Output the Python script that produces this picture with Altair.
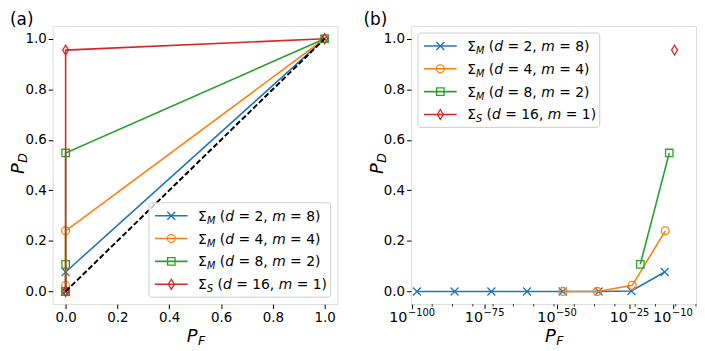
import altair as alt
import pandas as pd

FONT = "DejaVu Sans"
W_PLOT, H_PLOT = 287, 280

# ---------------- data ----------------
series_names = ["Σ_M (d = 2, m = 8)", "Σ_M (d = 4, m = 4)",
                "Σ_M (d = 8, m = 2)", "Σ_S (d = 16, m = 1)"]
series_colors = ["#1f77b4", "#ff7f0e", "#2ca02c", "#d62728"]
legend_parts = [("M", "2", "8"), ("M", "4", "4"), ("M", "8", "2"), ("S", "16", "1")]

blue_pf = [0.0, 5e-99, 5e-86, 2.5e-73, 5e-61, 1e-48, 2.5e-36, 5e-25, 1.6e-13, 1.0]
blue_pd = [0.0, 0.0, 0.0, 0.0, 0.0, 0.0, 0.0, 0.002, 0.077, 1.0]
orange_pf = [0.0, 1.2e-48, 1e-36, 1e-24, 2.5e-13, 1.0]
orange_pd = [0.0, 0.0, 0.0, 0.024, 0.24, 1.0]
green_pf = [0.0, 6e-22, 6e-12, 1.0]
green_pd = [0.0, 0.107, 0.548, 1.0]
red_pf = [0.0, 4e-10, 1.0]
red_pd = [0.0, 0.955, 1.0]

chance_pf = [0.0, 1.0]
chance_pd = [0.0, 1.0]

lin_ticks = [0.0, 0.2, 0.4, 0.6, 0.8, 1.0]
log_ticks = [1e-100, 1e-75, 1e-50, 1e-25, 1e-10]
log_tick_exp = ["−100", "−75", "−50", "−25", "−10"]
log_minor = [1e-93, 1e-86, 1e-79, 1e-72, 1e-65, 1e-58, 1e-51, 1e-44,
             1e-37, 1e-30, 1e-23, 1e-16, 1e-9, 1e-2]

all_pf = [blue_pf, orange_pf, green_pf, red_pf]
all_pd = [blue_pd, orange_pd, green_pd, red_pd]

X_PATH = "M-1,-1L1,1M-1,1L1,-1"
D_PATH = "M0,-1L0.6,0L0,1L-0.6,0Z"
shapes = [X_PATH, "circle", "square", D_PATH]
sizes = [64, 64, 56, 100]

EM = {"Σ": 0.632, "M": 0.863, "S": 0.635, "P": 0.603, "F": 0.575, "D": 0.770,
      "(": 0.390, ")": 0.390, "d": 0.635, "m": 0.974, "=": 0.838, " ": 0.318,
      ",": 0.318, "−": 0.838}


def tw(s, size):
    return sum(EM.get(c, 0.636) for c in s) * size


ONE = pd.DataFrame({"k": [0]})


def txt(s, x, y, size, style="normal", angle=0, align="left"):
    kw = dict(align=align, baseline="alphabetic", font=FONT, fontSize=size,
              fontStyle=style, color="black")
    if angle:
        kw["angle"] = angle
    return alt.Chart(ONE).mark_text(**kw).encode(
        x=alt.value(x), y=alt.value(y), text=alt.value(s))


def legend_layers(bx, by):
    F = 14.0
    bw, bh = 183, 95
    out = [alt.Chart(ONE).mark_rect(fill="white", fillOpacity=0.8, stroke="#cccccc",
                                    strokeWidth=1, cornerRadius=3).encode(
        x=alt.value(bx), x2=alt.value(bx + bw), y=alt.value(by), y2=alt.value(by + bh))]
    for k in range(4):
        yk = by + 13 + 23 * k
        c = series_colors[k]
        out.append(alt.Chart(ONE).mark_rule(color=c, strokeWidth=1.6).encode(
            x=alt.value(bx + 6), x2=alt.value(bx + 39), y=alt.value(yk)))
        out.append(alt.Chart(ONE).mark_point(shape=shapes[k], size=sizes[k], filled=False,
                                             color=c, strokeWidth=1.3, opacity=1).encode(
            x=alt.value(bx + 22.5), y=alt.value(yk)))
        sub, dv, mv = legend_parts[k]
        x = bx + 49.5
        yb = yk + 5
        out.append(txt("Σ", x, yb, F)); x += tw("Σ", F)
        out.append(txt(sub, x, yb + 3, 0.7 * F, "italic")); x += tw(sub, 0.7 * F) + tw(" ", F)
        out.append(txt("(", x, yb, F)); x += tw("(", F)
        out.append(txt("d", x, yb, F, "italic")); x += tw("d", F) + tw(" ", F)
        s = "= %s," % dv
        out.append(txt(s, x, yb, F)); x += tw(s, F) + tw(" ", F)
        out.append(txt("m", x, yb, F, "italic")); x += tw("m", F) + tw(" ", F)
        s = "= %s)" % mv
        out.append(txt(s, x, yb, F))
    return out


def axis_titles(tag):
    out = []
    # P_F
    out.append(txt("P", 135, 318, 18, "italic"))
    out.append(txt("F", 135 + tw("P", 18) + 0.5, 321, 12.6, "italic"))
    # P_D (rotated)
    out.append(txt("P", -28.5, 149, 18, "italic", angle=270))
    out.append(txt("D", -25.5, 149 - tw("P", 18) - 0.5, 12.6, "italic", angle=270))
    # panel tag
    out.append(txt(tag, -43 if tag == "(a)" else -48, -1.5, 17))
    return out


AX = dict(domain=False, grid=False, ticks=True, tickColor="black", tickSize=4.5,
          tickWidth=1, labelColor="black", labelFont=FONT, labelFontSize=13.5,
          labelPadding=2, title=None)

y_enc = alt.Y("pdet:Q", scale=alt.Scale(domain=[-0.05, 1.05], nice=False, zero=False),
              axis=alt.Axis(values=lin_ticks, format=".1f", **AX))

# ---------------- panel (a) ----------------
xa = alt.X("pf:Q", scale=alt.Scale(domain=[-0.05, 1.05], nice=False, zero=False),
           axis=alt.Axis(values=lin_ticks, format=".1f", **AX))

layers_a = []
for k in range(4):
    df = pd.DataFrame({"pf": all_pf[k], "pdet": all_pd[k], "i": list(range(len(all_pf[k])))})
    base = alt.Chart(df)
    layers_a.append(base.mark_line(color=series_colors[k], strokeWidth=1.6, clip=True)
                    .encode(x=xa, y=y_enc, order="i:Q"))
    layers_a.append(base.mark_point(shape=shapes[k], size=sizes[k], filled=False,
                                    color=series_colors[k], strokeWidth=1.3, opacity=1,
                                    clip=True).encode(x=xa, y=y_enc))
diag = pd.DataFrame({"pf": chance_pf, "pdet": chance_pd})
layers_a.append(alt.Chart(diag).mark_line(color="black", strokeWidth=2,
                                          strokeDash=[5.5, 2.5]).encode(x=xa, y=y_enc))
layers_a += legend_layers(W_PLOT - 7 - 183, H_PLOT - 7 - 95)
layers_a += axis_titles("(a)")
panel_a = alt.layer(*layers_a).properties(width=W_PLOT, height=H_PLOT)

# ---------------- panel (b) ----------------
AXB = dict(AX)
AXB["labels"] = False
xb = alt.X("pf:Q", scale=alt.Scale(type="log", domain=[10 ** -100.3, 10 ** -2.0], nice=False),
           axis=alt.Axis(values=log_ticks, **AXB))
FILT = "datum.pf > 0 && datum.pf < 0.01"

layers_b = []
for k in range(4):
    df = pd.DataFrame({"pf": all_pf[k], "pdet": all_pd[k], "i": list(range(len(all_pf[k])))})
    base = alt.Chart(df).transform_filter(FILT)
    layers_b.append(base.mark_line(color=series_colors[k], strokeWidth=1.6, clip=True)
                    .encode(x=xb, y=y_enc, order="i:Q"))
    layers_b.append(base.mark_point(shape=shapes[k], size=sizes[k], filled=False,
                                    color=series_colors[k], strokeWidth=1.3, opacity=1,
                                    clip=True).encode(x=xb, y=y_enc))
minor = pd.DataFrame({"pf": log_minor})
layers_b.append(alt.Chart(minor).mark_rule(color="black", strokeWidth=0.8)
                .encode(x=xb, y=alt.value(H_PLOT), y2=alt.value(H_PLOT + 2.5)))

# tick labels of the log axis: "10" plus a superscript exponent, centred on the tick
F_BASE, F_SUP = 14.4, 10.0
for v, e in zip(log_ticks, log_tick_exp):
    one = pd.DataFrame({"pf": [v], "e": [e]})
    total = tw("10", F_BASE) + tw(e, F_SUP)
    junction = -total / 2 + tw("10", F_BASE)
    layers_b.append(alt.Chart(one).mark_text(align="right", baseline="alphabetic", font=FONT,
                                             fontSize=F_BASE, color="black", dx=junction)
                    .encode(x=xb, y=alt.value(H_PLOT + 18.5), text=alt.value("10")))
    layers_b.append(alt.Chart(one).mark_text(align="left", baseline="alphabetic", font=FONT,
                                             fontSize=F_SUP, color="black", dx=junction + 0.5)
                    .encode(x=xb, y=alt.value(H_PLOT + 11.5), text="e:N"))
layers_b += legend_layers(7, 7)
layers_b += axis_titles("(b)")
panel_b = alt.layer(*layers_b).properties(width=W_PLOT, height=H_PLOT)

chart = (alt.hconcat(panel_a, panel_b, spacing=74, bounds="flush")
         .properties(padding={"left": 1, "top": 1, "right": 0, "bottom": 0})
         .configure_view(stroke="black", strokeWidth=1)
         .configure(font=FONT))

chart.save("out.html", embed_options={"renderer": "svg", "actions": False})
